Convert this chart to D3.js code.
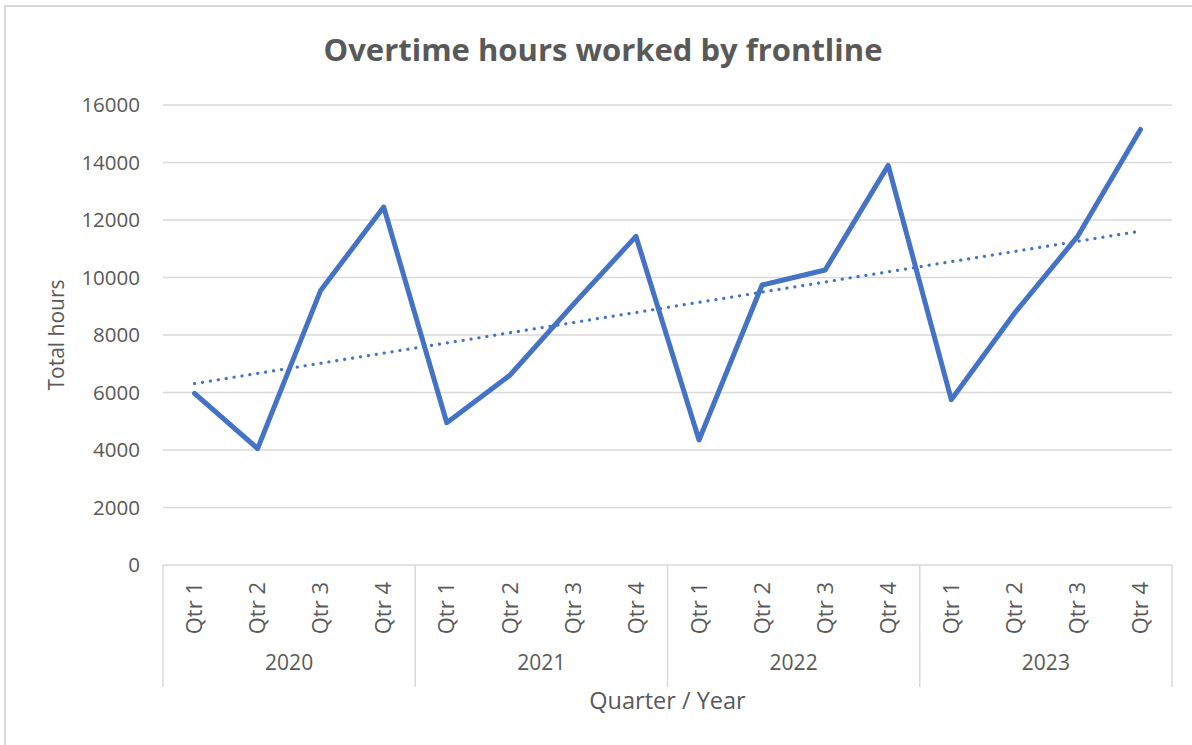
<!DOCTYPE html>
<html>
<head>
<meta charset="utf-8">
<script src="https://cdn.jsdelivr.net/npm/d3@7"></script>
<style>
  body { margin: 0; background: #fff; }
  text { font-family: "Open Sans", sans-serif; fill: #595959; }
</style>
</head>
<body>
<script>
var years = ["2020", "2021", "2022", "2023"];
var quarters = ["Qtr 1", "Qtr 2", "Qtr 3", "Qtr 4"];
var hours = [5970, 4050, 9550, 12450,
             4950, 6600, 9050, 11430,
             4350, 9740, 10260, 13900,
             5750, 8750, 11420, 15150];
var yTicks = [0, 2000, 4000, 6000, 8000, 10000, 12000, 14000, 16000];

var width = 1192,
    height = 745;

var svg = d3.select("body").append("svg")
    .attr("width", width)
    .attr("height", height);

// chart border
svg.append("rect")
    .attr("x", 5).attr("y", 6)
    .attr("width", 1300).attr("height", 900)
    .attr("fill", "none")
    .attr("stroke", "#d9d9d9")
    .attr("stroke-width", 2);

var plotL = 163, plotR = 1172, plotT = 105, plotB = 565;

// one entry per quarter
var cats = [];
years.forEach(function(y) {
  quarters.forEach(function(q) { cats.push(y + "|" + q); });
});

var x = d3.scaleBand().domain(cats).range([plotL, plotR]).padding(0);
var y = d3.scaleLinear().domain([0, 16000]).range([plotB, plotT]);

// gridlines
svg.append("g")
  .selectAll("line")
  .data(yTicks.slice(1))
  .enter().append("line")
    .attr("x1", plotL).attr("x2", plotR)
    .attr("y1", function(d) { return y(d); })
    .attr("y2", function(d) { return y(d); })
    .attr("stroke", "#d9d9d9")
    .attr("stroke-width", 1.5);

// y tick labels
svg.append("g")
  .selectAll("text")
  .data(yTicks)
  .enter().append("text")
    .attr("x", 140)
    .attr("y", function(d) { return y(d); })
    .attr("dy", "0.35em")
    .attr("text-anchor", "end")
    .style("font-size", "20.5px")
    .text(function(d) { return d; });

// x axis line + group separators
svg.append("line")
    .attr("x1", plotL).attr("x2", plotR)
    .attr("y1", plotB).attr("y2", plotB)
    .attr("stroke", "#d9d9d9").attr("stroke-width", 1.5);

var groupW = (plotR - plotL) / years.length;
svg.append("g")
  .selectAll("line")
  .data(d3.range(years.length + 1))
  .enter().append("line")
    .attr("x1", function(i) { return plotL + i * groupW; })
    .attr("x2", function(i) { return plotL + i * groupW; })
    .attr("y1", plotB).attr("y2", 687)
    .attr("stroke", "#d9d9d9").attr("stroke-width", 1.5);

// quarter labels
svg.append("g")
  .selectAll("text")
  .data(cats)
  .enter().append("text")
    .attr("transform", function(d) {
      return "translate(" + (x(d) + x.bandwidth() / 2) + ",582) rotate(-90)";
    })
    .attr("text-anchor", "end")
    .attr("dy", "0.35em")
    .style("font-size", "22px")
    .text(function(d) { return d.split("|")[1]; });

// year labels
svg.append("g")
  .selectAll("text")
  .data(years)
  .enter().append("text")
    .attr("x", function(d, i) { return plotL + (i + 0.5) * groupW; })
    .attr("y", 663)
    .attr("dy", "0.35em")
    .attr("text-anchor", "middle")
    .style("font-size", "21px")
    .text(function(d) { return d; });

// axis titles
svg.append("text")
    .attr("x", (plotL + plotR) / 2).attr("y", 701)
    .attr("dy", "0.35em")
    .attr("text-anchor", "middle")
    .style("font-size", "23.5px")
    .text("Quarter / Year");

svg.append("text")
    .attr("transform", "translate(57,335) rotate(-90)")
    .attr("dy", "0.35em")
    .attr("text-anchor", "middle")
    .style("font-size", "21px")
    .text("Total hours");

// title
svg.append("text")
    .attr("x", 603).attr("y", 50)
    .attr("dy", "0.35em")
    .attr("text-anchor", "middle")
    .style("font-size", "31px")
    .style("font-weight", "bold")
    .text("Overtime hours worked by frontline");

// linear trendline (least squares over quarter index)
var n = hours.length;
var xs = d3.range(1, n + 1);
var mx = d3.mean(xs), my = d3.mean(hours);
var sxy = d3.sum(xs, function(v, i) { return (v - mx) * (hours[i] - my); });
var sxx = d3.sum(xs, function(v) { return (v - mx) * (v - mx); });
var slope = sxy / sxx, icpt = my - slope * mx;

var px = function(i) { return x(cats[i]) + x.bandwidth() / 2; };

svg.append("line")
    .attr("x1", px(0)).attr("y1", y(icpt + slope * 1))
    .attr("x2", px(n - 1)).attr("y2", y(icpt + slope * n))
    .attr("stroke", "#4472c4")
    .attr("stroke-width", 3.2)
    .attr("stroke-linecap", "round")
    .attr("stroke-dasharray", "0.1 7.9");

// data line
var line = d3.line()
    .x(function(d, i) { return px(i); })
    .y(function(d) { return y(d); });

svg.append("path")
    .datum(hours)
    .attr("d", line)
    .attr("fill", "none")
    .attr("stroke", "#4472c4")
    .attr("stroke-width", 5)
    .attr("stroke-linejoin", "round")
    .attr("stroke-linecap", "round");
</script>
</body>
</html>
